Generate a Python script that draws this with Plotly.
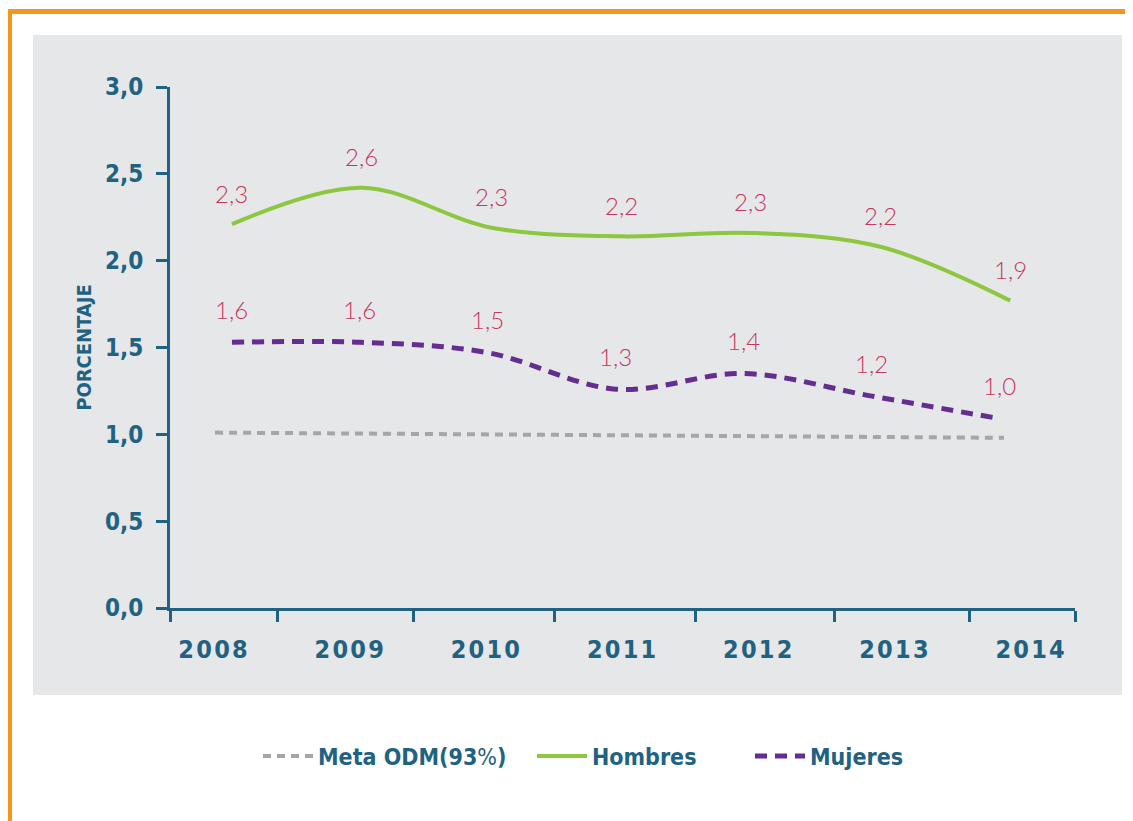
import plotly.graph_objects as go

# ---------------- data ----------------
years = [2008, 2009, 2010, 2011, 2012, 2013, 2014]
hombres = [2.21, 2.42, 2.19, 2.14, 2.16, 2.08, 1.77]
mujeres = [1.53, 1.53, 1.47, 1.26, 1.35, 1.22, 1.09]
meta = [1.01, 1.005, 1.0, 0.995, 0.99, 0.985, 0.98]
labels_hombres = ["2,3", "2,6", "2,3", "2,2", "2,3", "2,2", "1,9"]
labels_mujeres = ["1,6", "1,6", "1,5", "1,3", "1,4", "1,2", "1,0"]
y_ticks = [0, 0.5, 1.0, 1.5, 2.0, 2.5, 3.0]
y_ticktext = ["0,0", "0,5", "1,0", "1,5", "2,0", "2,5", "3,0"]
x_tickmarks = [2007.522, 2008.347, 2009.396, 2010.49, 2011.57, 2012.649, 2013.69, 2014.5]

# ---------------- style ----------------
TEAL = "#1F6282"
GREEN = "#8DC63F"
PURPLE = "#662D91"
GRAY = "#A4A6A9"
LABEL = "#C3385F"
BG = "#E6E7E8"
ORANGE = "#F7941D"
FONT = "DejaVu Sans Condensed, Liberation Sans Narrow, sans-serif"
LFONT = "Lato, Open Sans, sans-serif"

OFF = 8  # page body margin
W, H = 1133 - OFF, 821 - OFF
# plot area in page pixels: x 170..1075, y 87..608
L, R, T, B = 170 - OFF, 1133 - 1075, 87 - OFF, 821 - 608
PW, PH = 1075 - 170, 608 - 87


def px(xp):
    return (xp - 170) / PW


def py(yp):
    return (608 - yp) / PH


fig = go.Figure()

fig.add_trace(go.Scatter(
    x=years, y=meta, name="Meta ODM(93<span style='font-weight:normal'>%</span>)",
    mode="lines", line=dict(color=GRAY, width=4, dash="8px,6px", shape="spline"),
    xaxis="x4", yaxis="y", legend="legend",
))
fig.add_trace(go.Scatter(
    x=years, y=hombres, name="Hombres",
    mode="lines", line=dict(color=GREEN, width=4, shape="spline"),
    xaxis="x", yaxis="y", legend="legend2",
))
fig.add_trace(go.Scatter(
    x=years, y=mujeres, name="Mujeres",
    mode="lines", line=dict(color=PURPLE, width=5, dash="12px,8px", shape="spline"),
    xaxis="x3", yaxis="y", legend="legend3",
))

annotations = []
for xv, yv, t in zip(years, hombres, labels_hombres):
    annotations.append(dict(x=xv, y=yv, xref="x", yref="y", text=t, showarrow=False,
                            yshift=31, font=dict(family=LFONT, size=24, color=LABEL, weight=300)))
for xv, yv, t in zip(years, mujeres, labels_mujeres):
    annotations.append(dict(x=xv, y=yv, xref="x3", yref="y", text=t, showarrow=False,
                            yshift=33, font=dict(family=LFONT, size=24, color=LABEL, weight=300)))

shapes = [
    dict(type="rect", xref="paper", yref="paper", layer="below",
         x0=px(33), x1=px(1122), y0=py(695), y1=py(35),
         fillcolor=BG, line=dict(width=0)),
    dict(type="rect", xref="paper", yref="paper", layer="below",
         x0=px(9.5), x1=px(1145), y0=py(840), y1=py(11.5),
         fillcolor="rgba(0,0,0,0)", line=dict(color=ORANGE, width=5)),
]

legend_common = dict(orientation="h", xanchor="left", yanchor="middle",
                     bgcolor="rgba(0,0,0,0)", itemwidth=50,
                     font=dict(family=FONT, size=23, color=TEAL, weight="bold"))

fig.update_layout(
    width=W, height=H,
    margin=dict(l=L, r=R, t=T, b=B, pad=0),
    paper_bgcolor="white",
    plot_bgcolor=BG,
    showlegend=True,
    legend=dict(x=px(258), y=py(756), **legend_common),
    legend2=dict(x=px(532), y=py(756), **legend_common),
    legend3=dict(x=px(750), y=py(756), **legend_common),
    annotations=annotations,
    shapes=shapes,
    xaxis=dict(
        range=[2007.522, 2014.5], showgrid=False, zeroline=False,
        showline=True, linecolor=TEAL, linewidth=3,
        tickmode="array", tickvals=x_tickmarks, ticks="outside",
        ticklen=11, tickwidth=3, tickcolor=TEAL, showticklabels=False,
    ),
    xaxis2=dict(
        overlaying="x", anchor="y", side="bottom",
        range=[2007.684, 2014.33], showgrid=False, zeroline=False, showline=False,
        tickmode="array", tickvals=years,
        ticktext=["\u200a".join(str(y)) for y in years],
        ticks="", ticklabelstandoff=24,
        tickfont=dict(family=FONT, size=25, color=TEAL, weight="bold"),
    ),
    xaxis3=dict(overlaying="x", anchor="y", range=[2007.516, 2014.586], visible=False),
    xaxis4=dict(overlaying="x", anchor="y", range=[2007.658, 2014.54], visible=False),
    yaxis=dict(
        range=[0, 3], showgrid=False, zeroline=False,
        showline=True, linecolor=TEAL, linewidth=3,
        tickmode="array", tickvals=y_ticks, ticktext=y_ticktext,
        ticks="outside", ticklen=11, tickwidth=3, tickcolor=TEAL,
        ticklabelstandoff=8,
        tickfont=dict(family=FONT, size=24, color=TEAL, weight="bold"),
        title=dict(text="PORCENTAJE", standoff=8,
                   font=dict(family=FONT, size=20, color=TEAL, weight="bold")),
    ),
)

# anchor trace so that the label axis xaxis2 is drawn
fig.add_trace(go.Scatter(x=[2008], y=[None], xaxis="x2", yaxis="y",
                         showlegend=False, hoverinfo="skip"))

fig.write_html("out.html")
